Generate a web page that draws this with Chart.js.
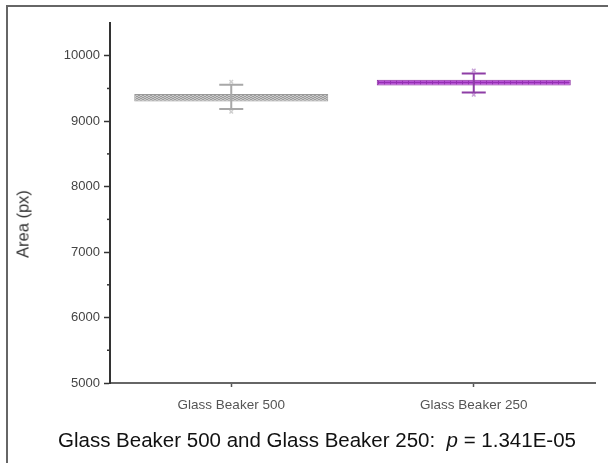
<!DOCTYPE html>
<html lang="en">
<head>
<meta charset="UTF-8" />
<title>Glass Beaker Area</title>
<script src="https://cdn.jsdelivr.net/npm/chart.js"></script>
<style>
  html, body { margin: 0; padding: 0; background: #fff; }
  body {
    width: 608px; height: 463px;
    position: relative; overflow: hidden;
    font-family: "Liberation Sans", Arial, sans-serif;
  }
  .frame {
    position: absolute; left: 6px; top: 5px;
    width: 700px; height: 600px;
    border: 2px solid #666;
  }
  #chart { position: absolute; left: 0; top: 0; }
  .ylabel {
    position: absolute; left: 23px; top: 224px;
    transform: translate(-50%, -50%) rotate(-90deg);
    font-size: 16.5px; color: #333; white-space: nowrap;
  }
  .caption {
    position: absolute; left: 58px; top: 428px;
    font-size: 20.5px; color: #111; white-space: nowrap;
  }
</style>
</head>
<body>
  <div class="frame"></div>
  <canvas id="chart" width="608" height="463"></canvas>
  <div class="ylabel">Area (px)</div>
  <div class="caption">Glass Beaker 500 and Glass Beaker 250:&nbsp; <i>p</i> = 1.341E-05</div>

<script>
  const categories = ['Glass Beaker 500', 'Glass Beaker 250'];
  const boxLow = [9300, 9546];
  const boxHigh = [9415, 9633];
  const whiskerLow = [9185, 9439];
  const whiskerHigh = [9557, 9728];
  const pointLow = [9144, 9404];
  const pointHigh = [9602, 9775];
  const majorTicks = [5000, 6000, 7000, 8000, 9000, 10000];
  const minorTicks = [5500, 6500, 7500, 8500, 9500];

  const lineColors = ['#a8a8a8', '#8e3ea6'];
  const markColors = ['#cfcfcf', '#c9a3d8'];

  function makePattern(w, h, draw) {
    const c = document.createElement('canvas');
    c.width = w; c.height = h;
    draw(c.getContext('2d'));
    return c.getContext('2d').createPattern(c, 'repeat');
  }

  // grey wavy hatch
  const greyFill = makePattern(4, 4, g => {
    g.fillStyle = '#c8c8c8';
    g.fillRect(0, 0, 4, 4);
    g.fillStyle = '#9c9c9c';
    g.fillRect(0, 0, 2, 1);
    g.fillRect(2, 1, 2, 1);
    g.fillRect(0, 2, 2, 1);
    g.fillRect(2, 3, 2, 1);
  });

  // purple grid
  const purpleFill = makePattern(6, 4, g => {
    g.fillStyle = '#b651d4';
    g.fillRect(0, 0, 6, 4);
    g.fillStyle = '#9530b3';
    g.fillRect(0, 0, 1, 4);
    g.fillRect(0, 2, 6, 1);
  });

  const whiskerPlugin = {
    id: 'whiskers',
    afterDatasetsDraw(chart) {
      const { ctx, scales: { x, y } } = chart;
      ctx.save();
      ctx.lineWidth = 2;
      categories.forEach((c, i) => {
        const cx = x.getPixelForValue(i);
        const yl = y.getPixelForValue(whiskerLow[i]);
        const yh = y.getPixelForValue(whiskerHigh[i]);
        ctx.strokeStyle = lineColors[i];
        ctx.beginPath();
        ctx.moveTo(cx, yl); ctx.lineTo(cx, yh);
        ctx.moveTo(cx - 12, yl); ctx.lineTo(cx + 12, yl);
        ctx.moveTo(cx - 12, yh); ctx.lineTo(cx + 12, yh);
        ctx.stroke();
      });
      ctx.restore();
    },
    afterDraw(chart) {
      // minor ticks on y axis
      const { ctx, scales: { y } } = chart;
      ctx.save();
      ctx.strokeStyle = '#333';
      ctx.lineWidth = 1.5;
      minorTicks.forEach(v => {
        const py = y.getPixelForValue(v);
        ctx.beginPath();
        ctx.moveTo(y.right - 3, py);
        ctx.lineTo(y.right, py);
        ctx.stroke();
      });
      ctx.restore();
    }
  };

  new Chart(document.getElementById('chart'), {
    type: 'bar',
    data: {
      labels: categories,
      datasets: [
        {
          data: boxLow.map((v, i) => [v, boxHigh[i]]),
          backgroundColor: [greyFill, purpleFill],
          borderColor: ['#999', '#8a2aa0'],
          borderWidth: 1,
          borderSkipped: false,
          barPercentage: 0.8,
          categoryPercentage: 1.0
        },
        {
          type: 'line',
          data: pointLow,
          showLine: false,
          pointStyle: 'crossRot',
          pointRadius: 2.5,
          pointBorderWidth: 1.5,
          pointBorderColor: markColors,
          pointBackgroundColor: markColors
        },
        {
          type: 'line',
          data: pointHigh,
          showLine: false,
          pointStyle: 'crossRot',
          pointRadius: 2.5,
          pointBorderWidth: 1.5,
          pointBorderColor: markColors,
          pointBackgroundColor: markColors
        }
      ]
    },
    options: {
      responsive: false,
      animation: false,
      devicePixelRatio: 1,
      layout: { padding: { left: 0, top: 23, right: 13, bottom: 0 } },
      plugins: { legend: { display: false }, tooltip: { enabled: false } },
      scales: {
        x: {
          offset: true,
          grid: { offset: false, drawOnChartArea: false, drawTicks: true, tickLength: 4, tickColor: '#555', tickWidth: 1.5 },
          border: { display: true, color: '#666', width: 2 },
          ticks: { color: '#555', padding: 10, font: { family: 'Liberation Sans', size: 13.5 } },
          afterFit: s => { s.height = 80; }
        },
        y: {
          min: 5000,
          max: 10500,
          afterBuildTicks: s => { s.ticks = majorTicks.map(v => ({ value: v })); },
          grid: { drawOnChartArea: false, drawTicks: true, tickLength: 6, tickColor: '#333', tickWidth: 1.5 },
          border: { display: true, color: '#333', width: 2 },
          ticks: {
            color: '#444', padding: 4,
            font: { family: 'Liberation Sans', size: 13 },
            callback: v => String(v)
          },
          afterFit: s => { s.width = 110; }
        }
      }
    },
    plugins: [whiskerPlugin]
  });
</script>
</body>
</html>
